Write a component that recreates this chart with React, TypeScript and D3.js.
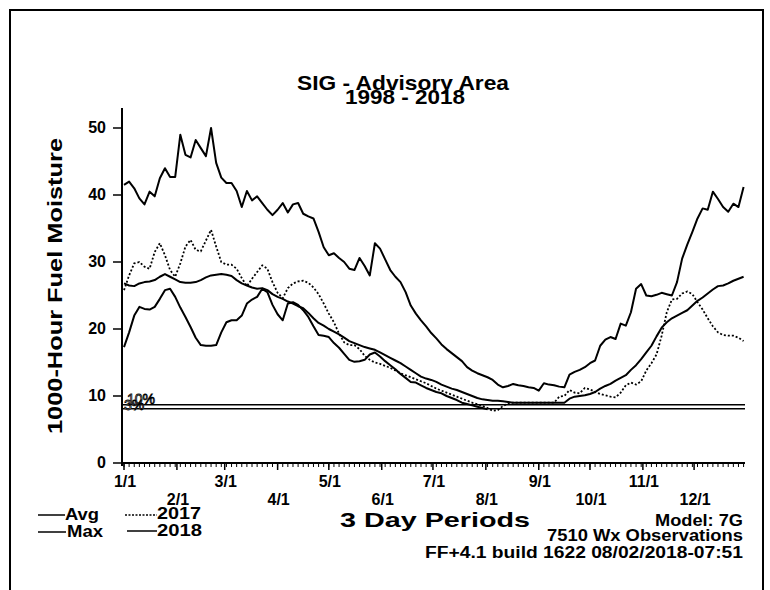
import React, { useEffect } from 'react';
import * as d3 from 'd3';

const monthLabels = ["1/1", "2/1", "3/1", "4/1", "5/1", "6/1", "7/1", "8/1", "9/1", "10/1", "11/1", "12/1"];
const monthStartDays = [0, 31, 59, 90, 120, 151, 181, 212, 243, 273, 304, 334];
const yTicks = [0, 10, 20, 30, 40, 50];
const periodDays = 3;
const periodCount = 122;

const maxVals = [
  41.5, 42.0, 41.0, 39.5, 38.6, 40.5, 39.8, 42.5, 44.0, 42.7,
  42.7, 49.0, 46.0, 45.6, 48.2, 47.0, 45.8, 50.0, 44.8, 42.6,
  41.8, 41.8, 40.6, 38.2, 40.6, 39.2, 39.8, 38.8, 37.8, 37.0,
  37.8, 38.8, 37.4, 38.6, 38.8, 37.2, 36.8, 36.5, 34.5, 32.2,
  31.0, 31.3, 30.6, 30.0, 29.0, 28.8, 30.6, 29.4, 28.0, 32.8,
  32.0, 30.4, 28.8, 27.8, 27.0, 25.5, 23.5, 22.3, 21.3, 20.4,
  19.4, 18.6, 17.7, 17.0, 16.4, 15.8, 15.2, 14.3, 13.8, 13.4,
  13.1, 12.8, 12.4, 11.7, 11.3, 11.5, 11.8, 11.6, 11.5, 11.3,
  11.2, 10.8, 11.9, 11.7, 11.6, 11.4, 11.3, 13.2, 13.6, 13.9,
  14.3, 14.9, 15.3, 17.5, 18.4, 18.8, 18.5, 20.8, 20.5, 22.5,
  26.0, 26.7, 25.0, 24.9, 25.1, 25.4, 25.2, 25.0, 27.0, 30.5,
  32.6, 34.5, 36.5, 38.0, 37.8, 40.5, 39.4, 38.2, 37.5, 38.7,
  38.2, 41.2
];

const avgVals = [
  26.8, 26.5, 26.4, 26.8, 27.0, 27.1, 27.3, 27.8, 28.2, 27.8,
  27.4, 27.0, 26.9, 26.9, 27.0, 27.3, 27.7, 28.0, 28.1, 28.2,
  28.1, 27.9, 27.3, 26.8, 26.5, 26.2, 26.0, 26.1, 25.8, 25.2,
  24.8, 24.5, 24.1, 23.8, 23.4, 23.1, 22.4, 21.6, 20.9, 20.5,
  20.0, 19.6, 19.2, 18.7, 18.2, 17.9, 17.6, 17.3, 17.1, 16.9,
  16.5, 16.1, 15.7, 15.3, 14.9, 14.4, 13.9, 13.4, 12.9, 12.6,
  12.4, 12.1, 11.7, 11.4, 11.1, 10.9, 10.6, 10.3, 10.0, 9.7,
  9.5, 9.4, 9.3, 9.3, 9.2, 9.1, 9.0, 9.0, 9.0, 9.0,
  9.0, 9.0, 9.0, 9.0, 9.0, 9.0, 9.0, 9.6, 9.9, 10.0,
  10.1, 10.3, 10.6, 11.1, 11.5, 11.8, 12.3, 12.7, 13.1, 13.9,
  14.6, 15.5, 16.5, 17.5, 18.9, 20.2, 21.0, 21.6, 22.0, 22.4,
  22.8, 23.5, 24.2, 24.7, 25.3, 25.9, 26.4, 26.5, 26.8, 27.2,
  27.5, 27.8
];

const vals2017 = [
  25.8, 28.0, 29.8, 30.0, 29.3, 29.0, 31.5, 32.8, 31.0, 28.8,
  27.8, 29.8, 32.3, 33.3, 31.8, 31.6, 33.2, 34.8, 32.3, 30.0,
  29.6, 29.6, 29.0, 27.6, 26.4, 27.5, 28.5, 29.5, 29.0, 27.0,
  25.4, 24.6, 26.1, 26.8, 27.1, 27.2, 26.9, 26.2, 25.2, 23.8,
  22.3, 21.0, 19.3, 18.0, 17.6, 17.6, 17.0, 16.0, 15.4, 15.0,
  14.8, 14.5, 14.2, 13.8, 13.4, 13.1, 12.8, 12.5, 12.2, 11.9,
  11.5, 11.1, 10.8, 10.5, 10.2, 9.9, 9.6, 9.3, 9.0, 8.8,
  8.5, 8.2, 7.8, 7.9, 8.5, 8.9, 9.0, 9.0, 9.0, 9.0,
  9.0, 9.0, 9.0, 9.0, 9.0, 9.9, 10.0, 10.9, 10.5, 10.4,
  11.2, 11.0, 10.6, 10.3, 10.1, 9.9, 9.8, 10.5, 11.6, 12.0,
  11.7, 12.2, 13.8, 14.9, 16.2, 19.0, 22.5, 24.4, 24.5, 25.3,
  25.6, 25.2, 24.0, 22.9, 21.6, 20.4, 19.5, 19.1, 19.0, 19.0,
  18.7, 18.2
];

const vals2018 = [
  17.3, 19.5, 22.0, 23.3, 23.0, 22.9, 23.3, 24.5, 25.8, 26.0,
  24.8, 23.2, 21.8, 20.3, 18.7, 17.6, 17.5, 17.5, 17.6, 19.5,
  21.0, 21.3, 21.3, 22.0, 23.8, 24.4, 24.8, 26.0, 25.5, 23.6,
  22.2, 21.3, 23.8, 24.0, 23.6, 22.8, 21.8, 20.4, 19.1, 19.0,
  18.8, 17.9, 17.2, 16.3, 15.4, 15.1, 15.2, 15.4, 16.2, 16.5,
  15.9, 15.2, 14.6, 14.0, 13.3, 12.7, 12.1, 12.0, 11.6, 11.2,
  10.9, 10.6, 10.4, 10.0, 9.7, 9.4, 9.0, 8.8, 8.6, 8.4,
  8.2, 8.0
];

const pct10 = 8.7;
const pct3 = 8.1;

const titleLines = ["SIG - Advisory Area", "1998 - 2018"];
const yLabel = "1000-Hour Fuel Moisture";
const xLabel = "3 Day Periods";
const infoLines = ["Model: 7G", "7510 Wx Observations", "FF+4.1 build 1622 08/02/2018-07:51"];

const FONT = "'Liberation Sans', Arial, Helvetica, sans-serif";

export default function App() {
  useEffect(() => {
    document.body.style.margin = '0';
  }, []);

  const x = d3.scaleLinear().domain([0, 365]).range([124, 747]);
  const y = d3.scaleLinear().domain([0, 50]).range([463, 128]);
  const axisX = 122;
  const axisEnd = 745;

  const line = d3.line<number>()
    .x((_, i) => x(i * periodDays))
    .y((d) => y(d));

  const periodTicks = d3.range(periodCount).map((i) => i * periodDays);

  return (
    <svg width={770} height={590} style={{ position: 'absolute', left: 0, top: 0, background: '#fff' }}
      fontFamily={FONT}>
      <rect x={0} y={0} width={770} height={590} fill="#fff" />
      {/* frame */}
      <path d="M10,600 L10,10 L763,10 L763,600" fill="none" stroke="#000" strokeWidth={2} />

      {/* title */}
      <text x={403} y={90} textAnchor="middle" fontSize={21} fontWeight="bold" textLength={212} lengthAdjust="spacingAndGlyphs">{titleLines[0]}</text>
      <text x={405} y={104} textAnchor="middle" fontSize={21} fontWeight="bold" textLength={120} lengthAdjust="spacingAndGlyphs">{titleLines[1]}</text>

      {/* y label */}
      <text transform="translate(62,286) rotate(-90)" textAnchor="middle" fontSize={21} fontWeight="bold"
        textLength={296} lengthAdjust="spacingAndGlyphs">{yLabel}</text>

      {/* y axis */}
      <line x1={axisX} x2={axisX} y1={108} y2={466} stroke="#000" strokeWidth={2} />
      {yTicks.map((t) => (
        <g key={t}>
          <line x1={113} x2={axisX} y1={y(t)} y2={y(t)} stroke="#000" strokeWidth={1.5} />
          <text x={106} y={y(t) + 5} textAnchor="end" fontSize={16} fontWeight="bold">{t}</text>
        </g>
      ))}

      {/* x axis */}
      <line x1={axisX} x2={axisEnd} y1={y(0)} y2={y(0)} stroke="#000" strokeWidth={2} />
      {periodTicks.map((d) => (
        <line key={'p' + d} x1={x(d)} x2={x(d)} y1={y(0)} y2={y(0) + 4} stroke="#000" strokeWidth={1} />
      ))}
      {monthStartDays.map((d, i) => (
        <g key={'m' + d}>
          <line x1={x(d)} x2={x(d)} y1={y(0)} y2={y(0) + 7} stroke="#000" strokeWidth={1.5} />
          <text x={x(d) + 1} y={i % 2 === 0 ? 487 : 505} textAnchor="middle" fontSize={16} fontWeight="bold">{monthLabels[i]}</text>
        </g>
      ))}

      {/* percentile lines */}
      <line x1={axisX} x2={axisEnd} y1={y(pct10)} y2={y(pct10)} stroke="#000" strokeWidth={1.5} />
      <line x1={axisX} x2={axisEnd} y1={y(pct3)} y2={y(pct3)} stroke="#000" strokeWidth={1.5} />
      <text x={127} y={y(pct10) - 1} fontSize={14} fill="#fff" stroke="#000" strokeWidth={0.8}>10%</text>
      <text x={124} y={y(pct3) + 1} fontSize={14} fill="#fff" stroke="#000" strokeWidth={0.8}>3%</text>

      {/* series */}
      <path d={line(avgVals) || ''} fill="none" stroke="#000" strokeWidth={2} strokeLinejoin="round" />
      <path d={line(vals2017) || ''} fill="none" stroke="#000" strokeWidth={1.8} strokeDasharray="2,2" />
      <path d={line(vals2018) || ''} fill="none" stroke="#000" strokeWidth={2} strokeLinejoin="round" />
      <path d={line(maxVals) || ''} fill="none" stroke="#000" strokeWidth={2} strokeLinejoin="round" />

      {/* legend */}
      <line x1={38} x2={65} y1={515} y2={515} stroke="#000" strokeWidth={1.5} />
      <text x={65} y={520} fontSize={16} fontWeight="bold" textLength={34} lengthAdjust="spacingAndGlyphs">Avg</text>
      <line x1={38} x2={66} y1={532} y2={532} stroke="#000" strokeWidth={1.5} />
      <text x={67} y={537} fontSize={16} fontWeight="bold" textLength={36} lengthAdjust="spacingAndGlyphs">Max</text>
      <line x1={125} x2={157} y1={515} y2={515} stroke="#000" strokeWidth={1.5} strokeDasharray="2,1.5" />
      <text x={157} y={519} fontSize={16} fontWeight="bold" textLength={44} lengthAdjust="spacingAndGlyphs">2017</text>
      <line x1={127} x2={157} y1={531} y2={531} stroke="#000" strokeWidth={1.5} />
      <text x={157} y={536} fontSize={16} fontWeight="bold" textLength={45} lengthAdjust="spacingAndGlyphs">2018</text>

      {/* x label */}
      <text x={340} y={527} fontSize={21} fontWeight="bold" textLength={190} lengthAdjust="spacingAndGlyphs">{xLabel}</text>

      {/* info */}
      <text x={743} y={526} textAnchor="end" fontSize={16} fontWeight="bold" textLength={88} lengthAdjust="spacingAndGlyphs">{infoLines[0]}</text>
      <text x={743} y={541} textAnchor="end" fontSize={16} fontWeight="bold" textLength={196} lengthAdjust="spacingAndGlyphs">{infoLines[1]}</text>
      <text x={743} y={558} textAnchor="end" fontSize={16} fontWeight="bold" textLength={318} lengthAdjust="spacingAndGlyphs">{infoLines[2]}</text>
    </svg>
  );
}
